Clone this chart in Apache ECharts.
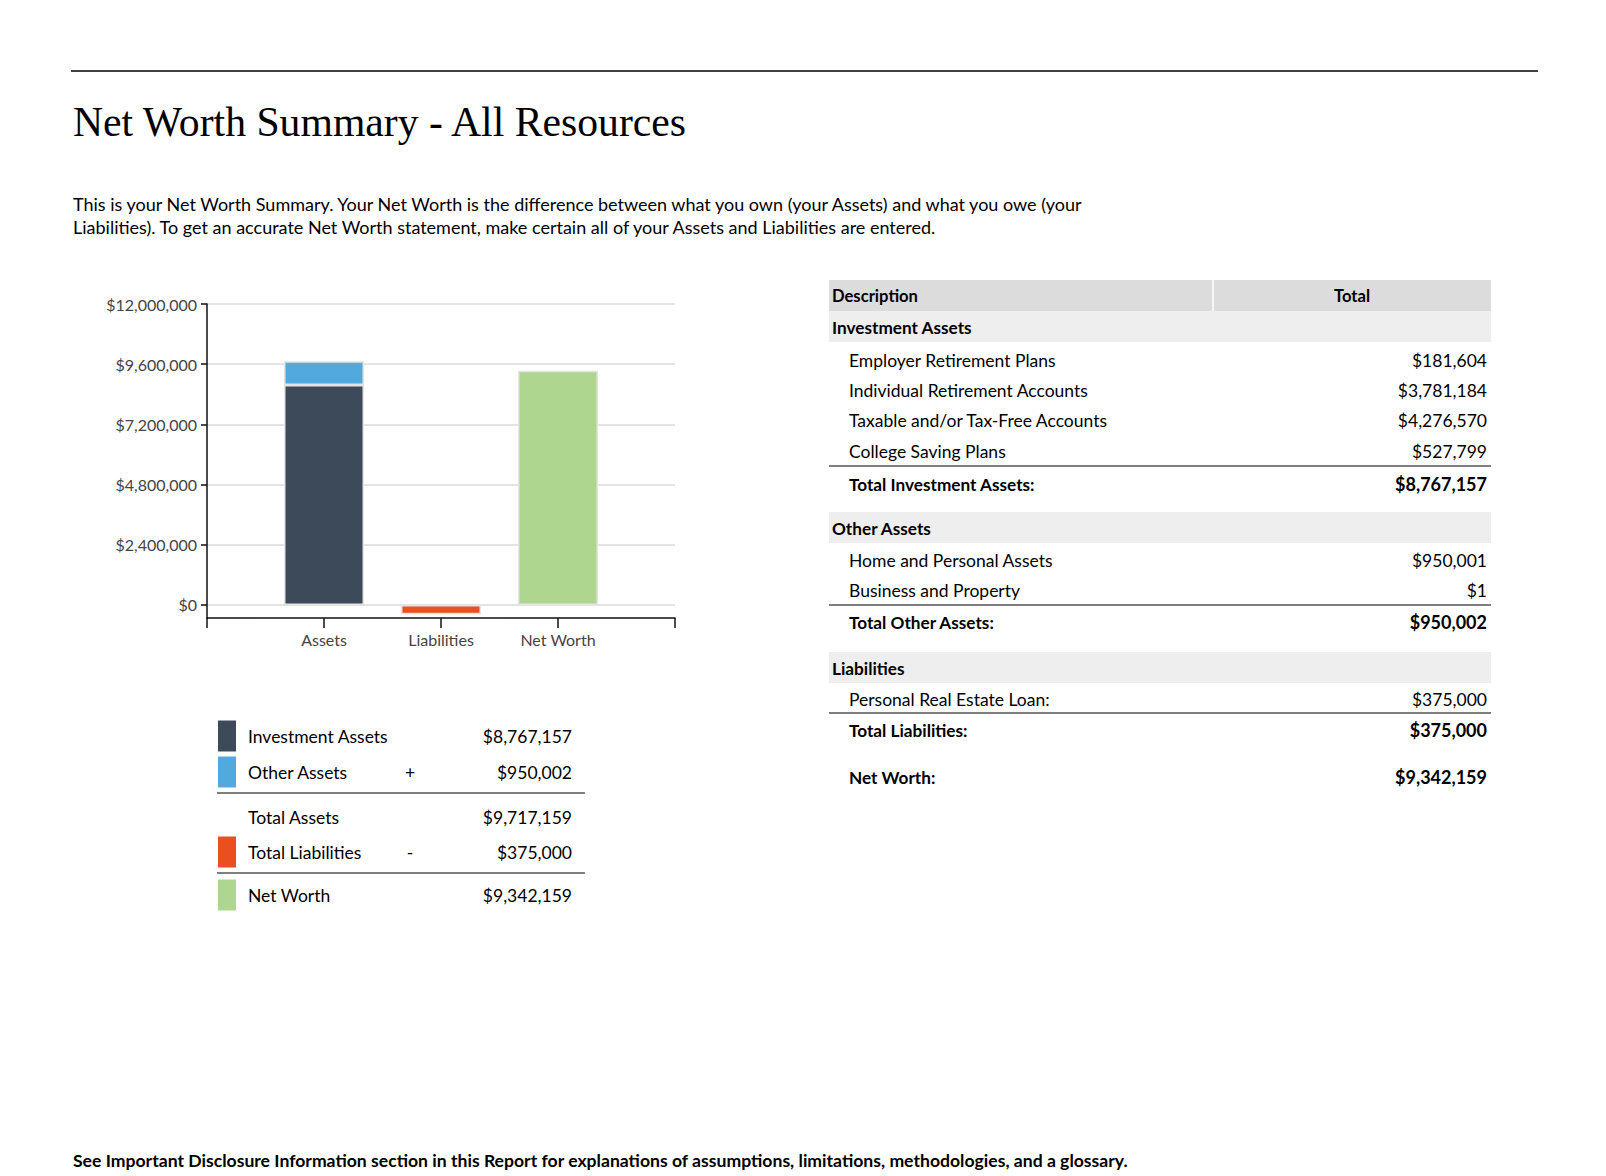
<!DOCTYPE html>
<html><head><meta charset="utf-8">
<script src="https://cdn.jsdelivr.net/npm/echarts@6/dist/echarts.min.js"></script>
<style>html,body{margin:0;padding:0;background:#fff}#c{width:1606px;height:1176px}</style>
</head><body><div id="c"></div>
<script>
// ---------- data ----------
const categories = ['', 'Assets', 'Liabilities', 'Net Worth', ''];
const investmentAssetsBar = [null, 8767157, null, null, null];
const otherAssetsBar = [null, 950002, null, null, null];
const liabilitiesBar = [null, null, -375000, null, null];
const netWorthBar = [null, null, null, 9342159, null];
const yTicks = [0, 2400000, 4800000, 7200000, 9600000, 12000000];

const summaryLabels = ['Investment Assets', 'Other Assets', 'Total Assets', 'Total Liabilities', 'Net Worth'];
const summarySigns = ['', '+', '', '-', ''];
const summaryValues = [8767157, 950002, 9717159, 375000, 9342159];

const investmentLabels = ['Employer Retirement Plans', 'Individual Retirement Accounts', 'Taxable and/or Tax-Free Accounts', 'College Saving Plans'];
const investmentValues = [181604, 3781184, 4276570, 527799];
const investmentTotal = 8767157;
const otherLabels = ['Home and Personal Assets', 'Business and Property'];
const otherValues = [950001, 1];
const otherTotal = 950002;
const liabilityLabels = ['Personal Real Estate Loan:'];
const liabilityValues = [375000];
const liabilityTotal = 375000;
const netWorthTotal = 9342159;

const titleText = 'Net Worth Summary - All Resources';
const introLines = [
  'This is your Net Worth Summary. Your Net Worth is the difference between what you own (your Assets) and what you owe (your',
  'Liabilities). To get an accurate Net Worth statement, make certain all of your Assets and Liabilities are entered.'
];
const footerText = 'See Important Disclosure Information section in this Report for explanations of assumptions, limitations, methodologies, and a glossary.';

// ---------- styles ----------
const C_INV = '#3d4a5a', C_OTH = '#52a9dd', C_LIA = '#e94f1f', C_NET = '#aed68f';
const swatchColors = [C_INV, C_OTH, null, C_LIA, C_NET];
const SANS = 'Lato, "Open Sans", sans-serif';

function money(v) {
  const s = String(Math.abs(Math.round(v)));
  return '$' + s.replace(/\B(?=(\d{3})+(?!\d))/g, ',');
}

const g = [];
function txt(x, y, text, size, opt) {
  opt = opt || {};
  const align = opt.align || 'left';
  g.push({
    type: 'text', silent: true,
    style: {
      x: x, y: y, text: text,
      font: (opt.bold ? 'bold ' : 'normal ') + size + 'px ' + (opt.family || SANS),
      fill: opt.color || '#000',
      align: align, textAlign: align,
      verticalAlign: 'middle', textVerticalAlign: 'middle'
    }
  });
}
function rect(x, y, w, h, color) {
  g.push({ type: 'rect', silent: true, shape: { x: x, y: y, width: w, height: h }, style: { fill: color } });
}
function hline(x1, x2, y, w, color) {
  g.push({ type: 'line', silent: true, shape: { x1: x1, y1: y, x2: x2, y2: y }, style: { stroke: color || '#000', lineWidth: w || 1 } });
}

const FS = 17.5;     // regular body size
const FB = 17.2;     // bold label size
const FBV = 18;      // bold value size

// header
hline(71, 1538, 71, 1.5);
txt(73, 122, titleText, 41.7, { family: '"Liberation Serif", "Times New Roman", serif' });
txt(73, 204, introLines[0], 18);
txt(73, 227, introLines[1], 18);

// summary legend under chart
const sumY = [736, 772, 817, 852, 895];
summaryLabels.forEach(function (lab, i) {
  if (swatchColors[i]) rect(218, sumY[i] - 15.5, 18, 31, swatchColors[i]);
  txt(248, sumY[i], lab, FS);
  if (summarySigns[i]) txt(410, sumY[i], summarySigns[i], FS, { align: 'center' });
  txt(572, sumY[i], money(summaryValues[i]), FS, { align: 'right' });
});
hline(217, 585, 793, 1.2);
hline(217, 585, 873, 1.2);

// right table
const TL = 829, TR = 1491, TDIV = 1213, VX = 1487, IX = 849;
rect(TL, 280, TR - TL, 31, '#dcdcdc');
g.push({ type: 'line', silent: true, shape: { x1: TDIV, y1: 280, x2: TDIV, y2: 311 }, style: { stroke: '#fff', lineWidth: 1.5 } });
txt(832, 296, 'Description', 16.6, { bold: true });
txt((TDIV + TR) / 2, 296, 'Total', 16.6, { bold: true, align: 'center' });

function section(title, bandTop, labels, values, itemYs, lineY, totalLabel, total, totalY) {
  rect(TL, bandTop, TR - TL, 31, '#eeeeee');
  txt(832, bandTop + 16.5, title, FB, { bold: true });
  labels.forEach(function (l, i) {
    txt(IX, itemYs[i], l, FS);
    txt(VX, itemYs[i], money(values[i]), FS, { align: 'right' });
  });
  hline(TL, TR, lineY, 1.2);
  txt(IX, totalY, totalLabel, FB, { bold: true });
  txt(VX, totalY, money(total), FBV, { bold: true, align: 'right' });
}
section('Investment Assets', 311, investmentLabels, investmentValues, [360, 390, 420, 451], 466, 'Total Investment Assets:', investmentTotal, 484);
section('Other Assets', 512, otherLabels, otherValues, [560, 590], 605, 'Total Other Assets:', otherTotal, 622);
section('Liabilities', 652, liabilityLabels, liabilityValues, [699], 713, 'Total Liabilities:', liabilityTotal, 730);
txt(IX, 777, 'Net Worth:', FB, { bold: true });
txt(VX, 777, money(netWorthTotal), FBV, { bold: true, align: 'right' });

// footer
txt(73, 1160, footerText, 17.6, { bold: true });

// ---------- chart ----------
const chart = echarts.init(document.getElementById('c'), null, { renderer: 'svg' });
const barStyle = function (c) { return { color: c, borderColor: '#e4e4e4', borderWidth: 1.5 }; };
chart.setOption({
  animation: false,
  backgroundColor: '#fff',
  grid: { left: 207, top: 304, width: 468, height: 314, containLabel: false },
  xAxis: {
    type: 'category', data: categories, boundaryGap: false,
    axisLine: { onZero: false, lineStyle: { color: '#111', width: 1.5 } },
    axisTick: { show: true, length: 10, interval: 0, lineStyle: { color: '#111', width: 1.5 } },
    axisLabel: { interval: 0, margin: 13, color: '#444', fontSize: 16, fontFamily: SANS },
    splitLine: { show: false }
  },
  yAxis: {
    type: 'value', min: -520000, max: 12000000,
    axisLine: { show: true, lineStyle: { color: '#111', width: 1.5 } },
    axisTick: { show: true, length: 6, customValues: yTicks, lineStyle: { color: '#111', width: 1.5 } },
    axisLabel: { customValues: yTicks, margin: 10, color: '#444', fontSize: 16, fontFamily: SANS, formatter: function (v) { return money(v); } },
    splitLine: { show: true, lineStyle: { color: '#e3e3e3', width: 2 } }
  },
  series: [
    { name: 'Investment Assets', type: 'bar', stack: 'a', barWidth: 80, data: investmentAssetsBar, itemStyle: barStyle(C_INV), clip: false },
    { name: 'Other Assets', type: 'bar', stack: 'a', barWidth: 80, data: otherAssetsBar, itemStyle: barStyle(C_OTH), clip: false },
    { name: 'Liabilities', type: 'bar', stack: 'a', barWidth: 80, data: liabilitiesBar, itemStyle: barStyle(C_LIA), clip: false },
    { name: 'Net Worth', type: 'bar', stack: 'a', barWidth: 80, data: netWorthBar, itemStyle: barStyle(C_NET), clip: false }
  ],
  graphic: { elements: g }
});
</script></body></html>
